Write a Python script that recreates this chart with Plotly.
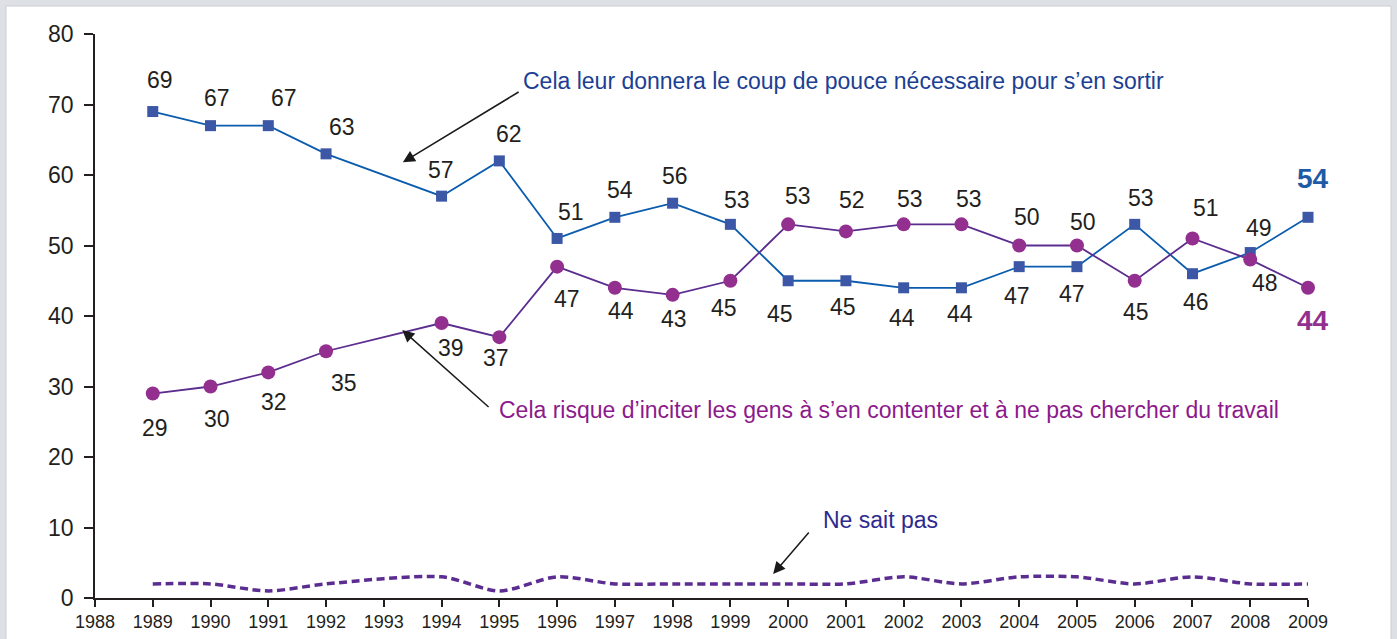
import plotly.graph_objects as go

# ---------------- data ----------------
years = [1989, 1990, 1991, 1992, 1994, 1995, 1996, 1997, 1998, 1999,
         2000, 2001, 2002, 2003, 2004, 2005, 2006, 2007, 2008, 2009]
coup_de_pouce = [69, 67, 67, 63, 57, 62, 51, 54, 56, 53,
                 45, 45, 44, 44, 47, 47, 53, 46, 49, 54]
inciter = [29, 30, 32, 35, 39, 37, 47, 44, 43, 45,
           53, 52, 53, 53, 50, 50, 45, 51, 48, 44]
ne_sait_pas = [2, 2, 1, 2, 3, 1, 3, 2, 2, 2,
               2, 2, 3, 2, 3, 3, 2, 3, 2, 2]
x_ticks = list(range(1988, 2010))
y_ticks = list(range(0, 90, 10))

label_blue = "Cela leur donnera le coup de pouce nécessaire pour s’en sortir"
label_purple = "Cela risque d’inciter les gens à s’en contenter et à ne pas chercher du travail"
label_nsp = "Ne sait pas"

# ---------------- styling ----------------
BLUE_LINE = "#0b5cad"
BLUE_MARK = "#3b57a6"
PURPLE_LINE = "#5b2d8e"
PURPLE_MARK = "#922f8f"
NSP_COL = "#5b2d91"
FONT = "Liberation Sans, Arial, sans-serif"

# label offsets in pixels (dx, dy with dy positive = downward)
blue_off = [(7, -32), (6, -28), (16, -28), (16, -27), (-1, -26), (10, -27), (14, -26),
            (5, -27), (2, -27), (7, -24), (-8, 33), (-3, 26), (-2, 30), (-1, 26),
            (-2, 29), (-5, 27), (6, -26), (4, 28), (9, -25), (5, -39)]
purple_off = [(2, 34), (6, 32), (6, 30), (18, 32), (9, 25), (-3, 21), (10, 32),
              (6, 23), (1, 24), (-6, 27), (10, -28), (6, -31), (6, -25), (8, -25),
              (8, -29), (6, -24), (1, 31), (14, -30), (15, 23), (5, 33)]

L, R, T, B = 95, 89, 34, 41
W, H = 1397, 639
pw, ph = W - L - R, H - T - B

fig = go.Figure()

fig.add_trace(go.Scatter(
    x=years, y=ne_sait_pas, mode="lines",
    line=dict(color=NSP_COL, width=3.5, dash="8px,4.5px", shape="spline", smoothing=0.8),
    cliponaxis=False, hoverinfo="skip", showlegend=False))

fig.add_trace(go.Scatter(
    x=years, y=coup_de_pouce, mode="lines+markers",
    line=dict(color=BLUE_LINE, width=1.8),
    marker=dict(symbol="square", size=11, color=BLUE_MARK),
    cliponaxis=False, showlegend=False))

fig.add_trace(go.Scatter(
    x=years, y=inciter, mode="lines+markers",
    line=dict(color=PURPLE_LINE, width=1.8),
    marker=dict(symbol="circle", size=14, color=PURPLE_MARK),
    cliponaxis=False, showlegend=False))

annotations = []
n = len(years)
for i, (yr, v) in enumerate(zip(years, coup_de_pouce)):
    dx, dy = blue_off[i]
    last = i == n - 1
    annotations.append(dict(
        x=yr, y=v, xref="x", yref="y", text=f"<b>{v}</b>" if last else str(v),
        showarrow=False, xshift=dx, yshift=-dy,
        font=dict(family=FONT, size=28 if last else 23,
                  color="#1f5aa6" if last else "#231f20")))
for i, (yr, v) in enumerate(zip(years, inciter)):
    dx, dy = purple_off[i]
    last = i == n - 1
    annotations.append(dict(
        x=yr, y=v, xref="x", yref="y", text=f"<b>{v}</b>" if last else str(v),
        showarrow=False, xshift=dx, yshift=-dy,
        font=dict(family=FONT, size=28 if last else 23,
                  color=PURPLE_MARK if last else "#231f20")))

# series captions with arrows
annotations += [
    dict(x=1995.38, y=73.3, xref="x", yref="y", text=label_blue, showarrow=False,
         xanchor="left", yanchor="middle", font=dict(family=FONT, size=23, color="#1b3f94")),
    dict(x=1993.33, y=61.8, ax=1995.36, ay=71.9, xref="x", yref="y", axref="x", ayref="y",
         text="", showarrow=True, arrowhead=2, arrowsize=1.6, arrowwidth=1.5, arrowcolor="#1a1a1a"),
    dict(x=1994.96, y=26.6, xref="x", yref="y", text=label_purple, showarrow=False,
         xanchor="left", yanchor="middle", font=dict(family=FONT, size=23, color="#8c1a8c")),
    dict(x=1993.32, y=38.0, ax=1994.84, ay=26.9, xref="x", yref="y", axref="x", ayref="y",
         text="", showarrow=True, arrowhead=2, arrowsize=1.6, arrowwidth=1.5, arrowcolor="#1a1a1a"),
    dict(x=2000.57, y=11.1, xref="x", yref="y", text=label_nsp, showarrow=False,
         xanchor="left", yanchor="middle", font=dict(family=FONT, size=23, color="#2e2a8f")),
    dict(x=1999.74, y=3.4, ax=2000.38, ay=9.5, xref="x", yref="y", axref="x", ayref="y",
         text="", showarrow=True, arrowhead=2, arrowsize=1.6, arrowwidth=1.5, arrowcolor="#1a1a1a"),
]

# white panel with grey frame around the whole figure
shapes = [dict(type="rect", xref="paper", yref="paper", layer="below",
               x0=(6 - L) / pw, x1=(1391 - L) / pw,
               y0=(T + ph - 660) / ph, y1=(T + ph - 6) / ph,
               fillcolor="white", line=dict(color="#c9cdd3", width=1))]

fig.update_layout(
    width=W, height=H,
    margin=dict(l=L, r=R, t=T, b=B, pad=0, autoexpand=False),
    paper_bgcolor="#dde1e6", plot_bgcolor="rgba(0,0,0,0)",
    annotations=annotations, shapes=shapes,
    xaxis=dict(range=[1988, 2009], tickvals=x_ticks, ticktext=[str(t) for t in x_ticks],
               showgrid=False, zeroline=False, showline=True, linecolor="#231f20", linewidth=1.5,
               ticks="outside", ticklen=7, tickwidth=1.5, tickcolor="#231f20", automargin=False,
               tickfont=dict(family=FONT, size=18, color="#231f20")),
    yaxis=dict(range=[0, 80], tickvals=y_ticks, showgrid=False, zeroline=False,
               showline=True, linecolor="#231f20", linewidth=1.5, automargin=False,
               ticks="outside", ticklen=9, tickwidth=1.5, tickcolor="#231f20",
               ticklabelstandoff=6,
               tickfont=dict(family=FONT, size=23, color="#231f20")),
)

fig.write_html("out.html", config={"displayModeBar": False},
               post_script="document.body.style.margin='0';document.body.style.overflow='hidden';")
